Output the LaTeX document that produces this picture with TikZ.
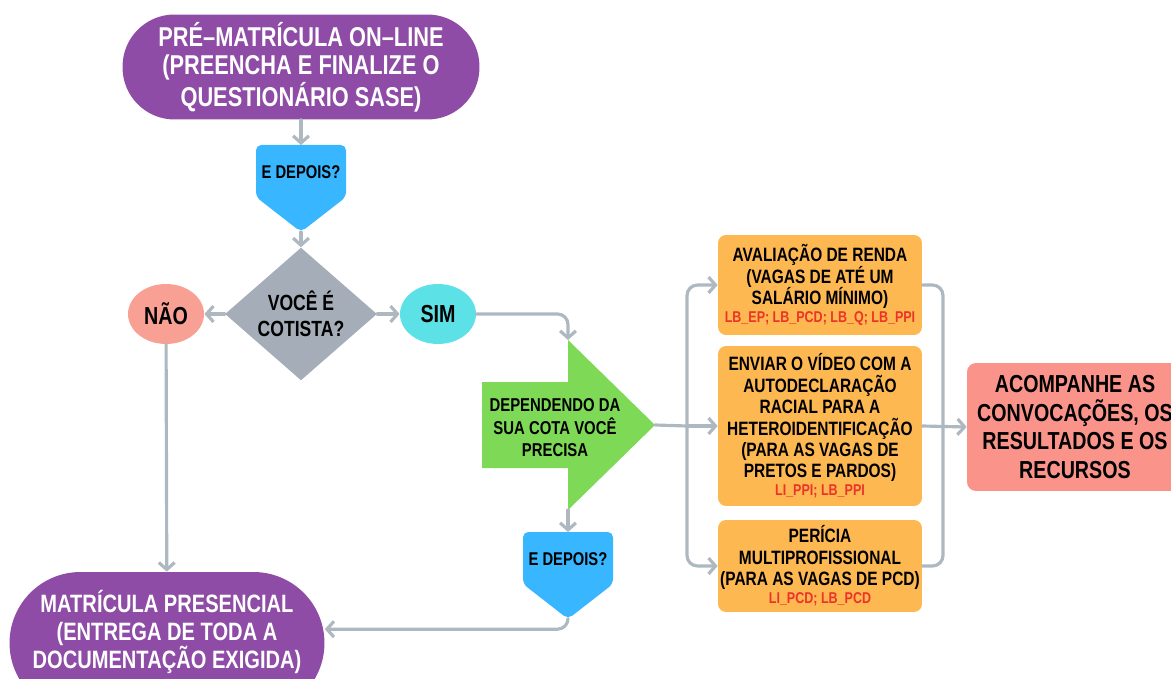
\documentclass[tikz,border=0pt]{standalone}
\usepackage{fontspec}
\setmainfont{Liberation Sans}[FakeStretch=0.8]
\usepackage{tikz}
\usetikzlibrary{arrows.meta, shapes.geometric, positioning}
\usepackage{xcolor}
\definecolor{roxo}{RGB}{142,76,166}
\definecolor{azul}{RGB}{56,182,255}
\definecolor{verde}{RGB}{126,217,87}
\definecolor{ciano}{RGB}{92,225,230}
\definecolor{salmao}{RGB}{248,160,148}
\definecolor{cinza}{RGB}{165,174,184}
\definecolor{linha}{RGB}{174,184,193}
\definecolor{laranja}{RGB}{253,184,82}
\definecolor{rosa}{RGB}{250,148,138}
\definecolor{vermelho}{RGB}{236,52,40}
\newcommand{\cotas}[1]{{\color{vermelho}\fontsize{8.9}{10}\selectfont #1}}

\tikzset{
  depois/.pic={
    \fill[azul, rounded corners=3pt] (-45,0) -- (45,0) -- (45,52) -- (0,87) -- (-45,52) -- cycle;
    \coordinate (-top) at (0,0);
    \coordinate (-tip) at (0,87);
    \node[font=\bfseries\fontsize{10.5}{12}\selectfont] (-txt) at (0,27) {E DEPOIS?};
  }
}

\begin{document}
\begin{tikzpicture}[x=0.02cm, y=-0.02cm, >={Straight Barb[length=4pt, width=9pt]},
  fluxo/.style={draw=linha, line width=1.8pt, line cap=round, line join=round, rounded corners=6pt},
  pilula/.style={fill=roxo, text=white, rounded corners=1.04cm, minimum width=7.14cm,
    minimum height=2.1cm, align=center, font=\bfseries\fontsize{15.5}{16}\selectfont},
  caixa/.style={fill=laranja, rounded corners=0.16cm, minimum width=4.08cm, inner sep=0pt,
    align=center, font=\bfseries\fontsize{11}{12.2}\selectfont},
  bola/.style={ellipse, minimum width=1.52cm, minimum height=1.2cm, inner sep=0pt,
    font=\bfseries\fontsize{14}{14}\selectfont}]
  \useasboundingbox (0,0) rectangle (1171,679);

  % primeira etapa
  \node[pilula] (pre) at (301,67) {PRÉ–MATRÍCULA ON–LINE\\(PREENCHA E FINALIZE O\\QUESTIONÁRIO SASE)};
  \pic (dep1) at (301,145) {depois};
  \node[diamond, fill=cinza, minimum width=3.04cm, minimum height=2.6cm, inner sep=0pt,
    align=center, font=\bfseries\fontsize{12.5}{15}\selectfont] (cotista) at (301,314) {VOCÊ É\\COTISTA?};
  \node[bola, fill=salmao] (nao) at (166,314) {NÃO};
  \node[bola, fill=ciano] (sim) at (438,314) {SIM};

  % seta verde
  \fill[verde] (482,382) -- (568,382) -- (568,340) -- (655,425) -- (568,510) -- (568,468) -- (482,468) -- cycle;
  \coordinate (gtopo) at (568,340);
  \coordinate (gponta) at (655,425);
  \coordinate (gbase) at (568,510);
  \node[align=center, font=\bfseries\fontsize{10.6}{12.8}\selectfont] (depende) at (555,428)
    {DEPENDENDO DA\\SUA COTA VOCÊ\\PRECISA};
  \pic (dep2) at (568,532) {depois};

  % matricula presencial (a pilula passa da borda de baixo)
  \node[fill=roxo, rounded corners=1.42cm, minimum width=6.3cm, minimum height=2.84cm] (presencial) at (167,643) {};
  \node[text=white, align=center, font=\bfseries\fontsize{14.3}{16}\selectfont] (presencialtxt) at (167,632)
    {MATRÍCULA PRESENCIAL\\(ENTREGA DE TODA A\\DOCUMENTAÇÃO EXIGIDA)};

  % etapas por cota
  \node[caixa, minimum height=2.0cm] (renda) at (820,285)
    {AVALIAÇÃO DE RENDA\\(VAGAS DE ATÉ UM\\SALÁRIO MÍNIMO)\\[-2pt]\cotas{LB\_EP; LB\_PCD; LB\_Q; LB\_PPI}};
  \node[caixa, minimum height=3.2cm] (video) at (820,426)
    {ENVIAR O VÍDEO COM A\\AUTODECLARAÇÃO\\RACIAL PARA A\\HETEROIDENTIFICAÇÃO\\(PARA AS VAGAS DE\\PRETOS E PARDOS)\\[-2pt]\cotas{LI\_PPI; LB\_PPI}};
  \node[caixa, minimum height=1.84cm] (pericia) at (820,566)
    {PERÍCIA\\MULTIPROFISSIONAL\\(PARA AS VAGAS DE PCD)\\[-2pt]\cotas{LI\_PCD; LB\_PCD}};
  \node[fill=rosa, rounded corners=0.18cm, minimum width=4.32cm, minimum height=2.56cm, align=center,
    font=\bfseries\fontsize{14}{16.4}\selectfont] (acompanhe) at (1075,427)
    {ACOMPANHE AS\\CONVOCAÇÕES, OS\\RESULTADOS E OS\\RECURSOS};

  % conectores
  \draw[fluxo, ->] (pre) -- (dep1-top);
  \draw[fluxo, ->] (dep1-tip) -- (cotista);
  \draw[fluxo, ->] (cotista.west) -- (nao.east);
  \draw[fluxo, ->] (cotista.east) -- (sim.west);
  \draw[fluxo, ->] (sim.east) -| (gtopo);
  \draw[fluxo, ->] (gbase) -- (dep2-top);
  \draw[fluxo, ->] (dep2-tip) |- (presencial.5);
  \draw[fluxo, ->] (nao) -- (presencial);

  \coordinate (divide) at (687,426);
  \coordinate (junta) at (943,426);
  \draw[fluxo] (gponta) -- (divide);
  \draw[fluxo, ->] (divide) |- (renda.west);
  \draw[fluxo, ->] (divide) -- (video.west);
  \draw[fluxo, ->] (divide) |- (pericia.west);
  \draw[fluxo] (renda.east) -| (junta);
  \draw[fluxo] (pericia.east) -| (junta);
  \draw[fluxo, ->] (video.east) -- (acompanhe.west);
\end{tikzpicture}
\end{document}
